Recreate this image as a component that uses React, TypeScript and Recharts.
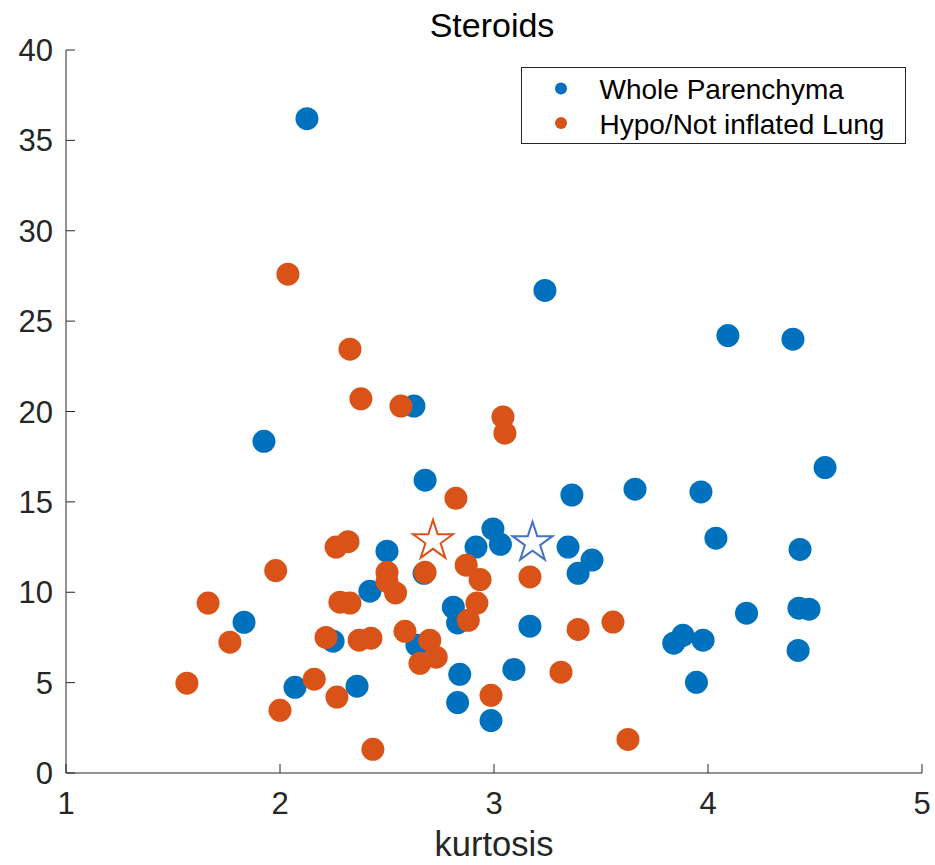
import React from "react";
import { ScatterChart, Scatter, XAxis, YAxis, Legend } from "recharts";

// Cores padrão do MATLAB (lines) — azul e laranja, eixo cinza escuro
const AZUL = "#0072BD";
const LARANJA = "#D95319";
const AZUL_ESTRELA = "#4472C4";
const COR_EIXO = "#262626";
const FONTE = '"Liberation Sans", Arial, Helvetica, sans-serif';

const xTicks = [1, 2, 3, 4, 5];
const yTicks = [0, 5, 10, 15, 20, 25, 30, 35, 40];

const NOME_WHOLE = "Whole Parenchyma";
const NOME_HYPO = "Hypo/Not inflated Lung";

const wholeKurtosis = [
  2.126, 1.925, 3.238, 4.093, 4.397, 4.547, 2.626, 2.678, 2.995, 3.03, 2.916, 2.5, 2.673, 2.42,
  2.81, 2.83, 1.832, 2.248, 2.64, 2.84, 2.83, 2.07, 2.36, 2.986, 3.346, 3.458, 3.393, 3.364,
  3.659, 3.967, 4.037, 3.168, 3.093, 3.84, 3.883, 3.977, 3.946, 4.18, 4.43, 4.425, 4.472, 4.421,
];
const wholeValor = [
  36.2, 18.35, 26.7, 24.2, 24.0, 16.9, 20.3, 16.2, 13.5, 12.65, 12.5, 12.27, 11.05, 10.06,
  9.17, 8.3, 8.34, 7.29, 7.07, 5.46, 3.9, 4.74, 4.8, 2.9, 12.5, 11.78, 11.05, 15.38,
  15.7, 15.55, 12.99, 8.12, 5.73, 7.18, 7.62, 7.35, 5.02, 8.84, 12.37, 9.12, 9.06, 6.78,
];

const hypoKurtosis = [
  2.037, 2.327, 2.378, 2.565, 3.042, 3.051, 2.822, 2.262, 2.318, 1.98, 2.5, 2.678, 2.87, 2.935,
  2.5, 2.54, 1.664, 2.28, 2.327, 2.92, 2.88, 1.766, 2.215, 2.37, 2.425, 2.584, 2.7, 2.73,
  2.654, 1.565, 2.16, 2.266, 2.0, 2.434, 2.986, 3.168, 3.393, 3.556, 3.313, 3.626,
];
const hypoValor = [
  27.6, 23.45, 20.7, 20.3, 19.7, 18.8, 15.2, 12.5, 12.8, 11.2, 11.1, 11.1, 11.5, 10.7,
  10.6, 9.96, 9.4, 9.45, 9.4, 9.4, 8.45, 7.24, 7.5, 7.35, 7.46, 7.84, 7.35, 6.41,
  6.07, 4.97, 5.19, 4.2, 3.47, 1.31, 4.3, 10.85, 7.94, 8.35, 5.58, 1.86,
];

// médias (estrelas)
const estrelaHypo = [{ x: 2.715, y: 12.9 }];
const estrelaWhole = [{ x: 3.18, y: 12.8 }];

const dadosWhole = wholeKurtosis.map((x, i) => ({ x, y: wholeValor[i] }));
const dadosHypo = hypoKurtosis.map((x, i) => ({ x, y: hypoValor[i] }));

function Bolinha({ cx, cy, cor }: { cx?: number; cy?: number; cor: string }) {
  if (cx == null || cy == null) return null;
  return <circle cx={cx} cy={cy} r={11.5} fill={cor} />;
}

function Estrela({ cx, cy, cor }: { cx?: number; cy?: number; cor: string }) {
  if (cx == null || cy == null) return null;
  const rExt = 21;
  const rInt = rExt * 0.382;
  const pts: string[] = [];
  for (let k = 0; k < 10; k++) {
    const r = k % 2 === 0 ? rExt : rInt;
    const a = -Math.PI / 2 + (k * Math.PI) / 5;
    pts.push(`${cx + r * Math.cos(a)},${cy + 1 + r * Math.sin(a)}`);
  }
  return <polygon points={pts.join(" ")} fill="#fff" stroke={cor} strokeWidth={2} />;
}

function TickX(props: any) {
  const { x, y, payload } = props;
  return (
    <g>
      <line x1={x} y1={y} x2={x} y2={y - 9} stroke={COR_EIXO} />
      <text x={x} y={y + 41} textAnchor="middle" fontSize={31} fill={COR_EIXO} fontFamily={FONTE}>
        {payload.value}
      </text>
    </g>
  );
}

function TickY(props: any) {
  const { x, y, payload } = props;
  return (
    <g>
      <line x1={x} y1={y} x2={x + 9} y2={y} stroke={COR_EIXO} />
      <text x={x - 13} y={y + 11} textAnchor="end" fontSize={31} fill={COR_EIXO} fontFamily={FONTE}>
        {payload.value}
      </text>
    </g>
  );
}

function Legenda() {
  const itens = [
    { nome: NOME_WHOLE, cor: AZUL },
    { nome: NOME_HYPO, cor: LARANJA },
  ];
  return (
    <svg width={385} height={77} style={{ display: "block" }}>
      <rect x={0.5} y={0.5} width={384} height={76} fill="#fff" stroke={COR_EIXO} strokeWidth={1} />
      {itens.map((it, i) => (
        <g key={it.nome}>
          <circle cx={40} cy={21.5 + i * 34.5} r={6} fill={it.cor} />
          <text x={78.5} y={32 + i * 34.5} fontSize={28} fill="#000" fontFamily={FONTE}>
            {it.nome}
          </text>
        </g>
      ))}
    </svg>
  );
}

export default function App() {
  return (
    <div style={{ position: "absolute", left: 0, top: 0, width: 935, height: 865, background: "#fff" }}>
      <ScatterChart
        width={935}
        height={865}
        margin={{ top: 50, right: 13, left: 0, bottom: 0 }}
        style={{ overflow: "visible" }}
      >
        <XAxis
          type="number"
          dataKey="x"
          domain={[1, 5]}
          ticks={xTicks}
          allowDataOverflow
          height={92}
          tickSize={0}
          tickMargin={0}
          tickLine={false}
          axisLine={{ stroke: COR_EIXO, strokeWidth: 1 }}
          tick={<TickX />}
          label={{
            content: ({ viewBox }: any) => (
              <text
                x={viewBox.x + viewBox.width / 2}
                y={viewBox.y + 83}
                textAnchor="middle"
                fontSize={34.5}
                fill={COR_EIXO}
                fontFamily={FONTE}
              >
                kurtosis
              </text>
            ),
          }}
        />
        <YAxis
          type="number"
          dataKey="y"
          domain={[0, 40]}
          ticks={yTicks}
          allowDataOverflow
          width={66}
          tickSize={0}
          tickMargin={0}
          tickLine={false}
          axisLine={{ stroke: COR_EIXO, strokeWidth: 1 }}
          tick={<TickY />}
        />
        <Legend
          layout="vertical"
          align="center"
          verticalAlign="middle"
          content={<Legenda />}
          wrapperStyle={{ position: "absolute", left: 521, top: 66.5, width: 385, height: 77 }}
        />
        <Scatter
          name={NOME_WHOLE}
          data={dadosWhole}
          fill={AZUL}
          shape={(p: any) => <Bolinha cx={p.cx} cy={p.cy} cor={AZUL} />}
          isAnimationActive={false}
        />
        <Scatter
          name={NOME_HYPO}
          data={dadosHypo}
          fill={LARANJA}
          shape={(p: any) => <Bolinha cx={p.cx} cy={p.cy} cor={LARANJA} />}
          isAnimationActive={false}
        />
        <Scatter
          name="media hypo"
          data={estrelaHypo}
          legendType="none"
          shape={(p: any) => <Estrela cx={p.cx} cy={p.cy} cor={LARANJA} />}
          isAnimationActive={false}
        />
        <Scatter
          name="media whole"
          data={estrelaWhole}
          legendType="none"
          shape={(p: any) => <Estrela cx={p.cx} cy={p.cy} cor={AZUL_ESTRELA} />}
          isAnimationActive={false}
        />
      </ScatterChart>
      <svg width={935} height={50} style={{ position: "absolute", left: 0, top: 0, pointerEvents: "none" }}>
        <text x={492} y={37} textAnchor="middle" fontSize={34} fill="#000" fontFamily={FONTE}>
          Steroids
        </text>
      </svg>
    </div>
  );
}
